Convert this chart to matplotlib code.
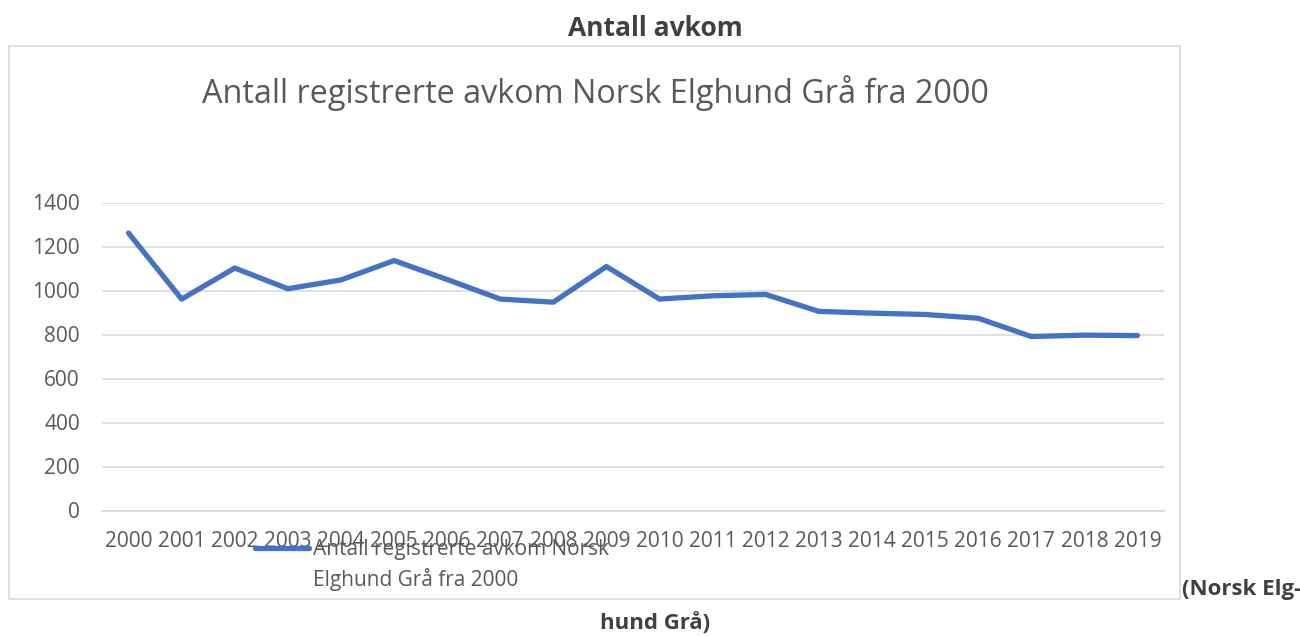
import matplotlib
matplotlib.use("Agg")
import matplotlib.pyplot as plt
from matplotlib.lines import Line2D
from matplotlib.patches import Rectangle

plt.rcParams["font.family"] = ["Open Sans", "DejaVu Sans"]

years = [str(y) for y in range(2000, 2020)]
avkom = [1261, 961, 1102, 1008, 1048, 1136, 1050, 961, 947, 1109,
         961, 976, 982, 905, 897, 891, 874, 791, 797, 795]
yticks = [0, 200, 400, 600, 800, 1000, 1200, 1400]
series_name = "Antall registrerte avkom Norsk\nElghund Grå fra 2000"
chart_title = "Antall registrerte avkom Norsk Elghund Grå fra 2000"

W, H = 1300, 636
GREY = "#595959"
BLUE = "#4472C4"


def fx(px):
    return px / W


def fy(py):
    return 1 - py / H


fig = plt.figure(figsize=(13, 6.36), dpi=100)

# chart frame
fig.patches.append(Rectangle((fx(8.5), fy(599)), fx(1180) - fx(8.5), fy(45.5) - fy(599),
                             transform=fig.transFigure, fill=False,
                             edgecolor="#D9D9D9", lw=1.2, zorder=0))

ax = fig.add_axes([fx(102), fy(510.5), fx(1164) - fx(102), fy(202.5) - fy(510.5)])
x = list(range(len(years)))
ax.plot(x, avkom, color=BLUE, lw=3.8, solid_capstyle="round", solid_joinstyle="round",
        zorder=3)
ax.set_xlim(-0.5, len(years) - 0.5)
ax.set_ylim(0, 1400)
ax.set_yticks(yticks)
ax.set_xticks(x)
ax.set_xticklabels(years)
ax.yaxis.grid(True, color="#D9D9D9", lw=1.2)
ax.set_axisbelow(True)
for s in ax.spines.values():
    s.set_visible(False)
ax.spines["bottom"].set_visible(True)
ax.spines["bottom"].set_color("#D9D9D9")
ax.spines["bottom"].set_linewidth(1.2)
ax.tick_params(axis="both", length=0, labelsize=15, labelcolor=GREY)
ax.tick_params(axis="x", pad=15)
ax.tick_params(axis="y", pad=16)

fig.text(fx(595), fy(93), chart_title, ha="center", va="center",
         fontsize=23.3, color=GREY)

# legend drawn at its spot (overlaps the year labels as in the original)
fig.lines.append(Line2D([fx(255), fx(309)], [fy(548), fy(548)], transform=fig.transFigure,
                        color=BLUE, lw=3.8, solid_capstyle="round"))
fig.text(fx(313), fy(539), series_name, ha="left", va="top", fontsize=15,
         color=GREY, linespacing=1.45)

fig.text(fx(655), fy(28), "Antall avkom", ha="center", va="center",
         fontsize=19, fontweight="bold", color="#404040")
fig.text(fx(1182), fy(590), "(Norsk Elg-", ha="left", va="center",
         fontsize=16, fontweight="bold", color="#404040")
fig.text(fx(655), fy(623), "hund Grå)", ha="center", va="center",
         fontsize=16, fontweight="bold", color="#404040")

fig.savefig("out.png", dpi=100)
